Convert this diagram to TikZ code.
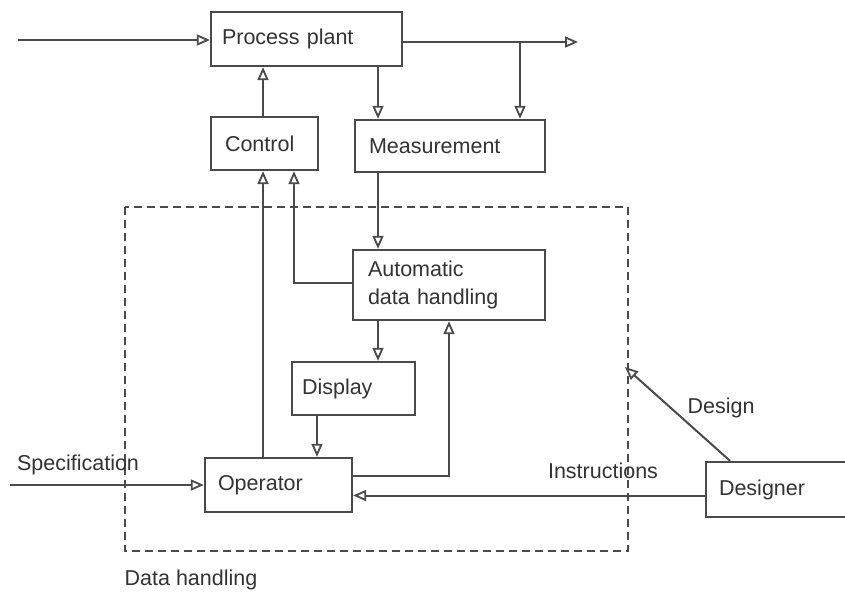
\documentclass[tikz,border=0pt]{standalone}
\usepackage{fontspec}
\setmainfont{Liberation Sans}
\usetikzlibrary{arrows.meta,calc}
\definecolor{ln}{HTML}{4a4a4a}
\definecolor{tx}{HTML}{333333}
\begin{document}
\begin{tikzpicture}[x=1pt,y=-1pt,
  every node/.style={text=tx,font=\fontsize{21.5}{28}\selectfont},
  blk/.style={draw=ln,line width=2.4pt,rectangle,align=left,inner xsep=11pt,inner ysep=0pt,anchor=center},
  arr/.style={draw=ln,line width=2pt,-{Triangle[open,length=13pt,width=11pt,line width=1.8pt]}},
  lbl/.style={inner sep=0pt}]
\useasboundingbox (0,0) rectangle (845,597);
\clip (0,0) rectangle (845,597);
\fill[white] (0,0) rectangle (845,597);
% boxes
\node[blk,minimum height=54pt,text width=169pt] (pp) at (306.5,39) {Process plant};
\node[blk,minimum height=53pt,text width=79pt,inner xsep=14pt] (ctrl) at (264.5,143.5) {Control};
\node[blk,minimum height=52pt,text width=162pt,inner xsep=14pt] (meas) at (450,146) {Measurement};
\node[blk,minimum height=70pt,text width=162pt,inner xsep=15pt] (adh) at (449,285) {Automatic\\data handling};
\node[blk,minimum height=53pt,text width=103pt,inner xsep=10pt] (disp) at (353.5,388.5) {Display};
\node[blk,minimum height=54pt,text width=121pt,inner xsep=13pt] (op) at (278.5,485) {Operator};
\node[blk,minimum height=55pt,text width=138pt,inner xsep=13pt] (des) at (788,489.5) {Designer};
% dashed box
\draw[ln,line width=2pt,dash pattern=on 8pt off 5pt] (125,207) rectangle (628,551);
% column coordinates
\coordinate (cA) at (378,0);
\coordinate (cB) at (520,0);
\coordinate (cC) at (263,0);
\coordinate (cD) at (294,0);
\coordinate (cE) at (317,0);
\coordinate (cF) at (449,0);
\coordinate (cG) at (730,0);
\coordinate (inL) at (18,40);
\coordinate (outR) at (578,42);
\coordinate (specL) at (10,485);
\coordinate (dsgT) at (625,367);
% connectors
\draw[arr] (inL) -- (pp.west |- inL);
\draw[arr] (pp.east |- outR) -- (outR);
\draw[arr] (cB |- outR) -- (meas.north -| cB);
\draw[arr] (pp.south -| cA) -- (meas.north -| cA);
\draw[arr] (ctrl.north -| cC) -- (pp.south -| cC);
\draw[arr] (meas.south -| cA) -- (adh.north -| cA);
\draw[arr] ([yshift=2pt]adh.west) -| (ctrl.south -| cD);
\draw[arr] (op.north -| cC) -- (ctrl.south -| cC);
\draw[arr] (adh.south -| cA) -- (disp.north -| cA);
\draw[arr] (disp.south -| cE) -- (op.north -| cE);
\draw[arr] ([yshift=9pt]op.east) -| (adh.south -| cF);
\draw[arr] (specL) -- (op.west);
\draw[arr] ([yshift=-6pt]des.west) -- ([yshift=-6pt]des.west -| op.east);
\draw[arr] (des.north -| cG) -- (dsgT);
% labels
\node[lbl] (lspec) at (78,465) {Specification};
\node[lbl] (linst) at (603,471) {Instructions};
\node[lbl] (ldes) at (721,408) {Design};
\node[lbl] (ldh) at (191,580) {Data handling};
\end{tikzpicture}
\end{document}
